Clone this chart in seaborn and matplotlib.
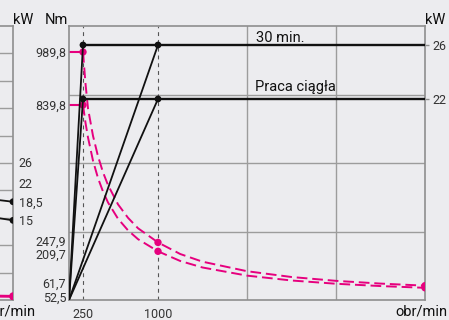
import numpy as np
import pandas as pd
import matplotlib
matplotlib.use("Agg")
import matplotlib.pyplot as plt
import seaborn as sns
from matplotlib.transforms import ScaledTranslation

# ---------------- data ----------------
base_speed_rpm = [250, 1000]
max_speed_rpm = 4000
power_30min_kw = 26
power_s1_kw = 22
torque_30min_nm = 989.8
torque_s1_nm = 839.8

curve_speed_rpm = [250, 275, 300, 350, 400, 450, 500, 600, 700, 800, 1000,
                   1250, 1500, 2000, 2500, 3000, 3500, 4000]
curve_torque_30min = [989.8, 900, 825, 707, 619, 550, 495, 412, 354, 309, 247.9,
                      198, 165, 124, 99, 82.5, 70.7, 61.7]
curve_torque_s1 = [839.8, 763, 700, 600, 525, 467, 420, 350, 300, 262, 209.7,
                   168, 140, 105, 84, 70, 60, 52.5]

torque_ticks = [52.5, 61.7, 209.7, 247.9, 839.8, 989.8]
torque_tick_labels = ["52,5", "61,7", "209,7", "247,9", "839,8", "989,8"]
power_ticks = [22, 26]
power_tick_labels = ["22", "26"]
speed_ticks = [250, 1000]
speed_tick_labels = ["250", "1000"]

# neighbouring (cropped) chart on the left
left_speed_rpm = [3000, 4000]
left_power_a = [20.5, 18.5]
left_power_b = [17.6, 15]
left_torque_a = [58.9, 44.2]
left_torque_b = [47.7, 35.8]
left_power_ticks = [15, 18.5, 22, 26]
left_power_tick_labels = ["15", "18,5", "22", "26"]

label_30min = "30 min."
label_s1 = "Praca ciągła"
unit_speed = "obr/min"

# ---------------- style ----------------
PINK = "#E6007E"
BLACK = "#111111"
BG = "#ECECEF"
GRID = "#9C9C9C"
SPINE = "#8E8E8E"
TXT = "#333333"
TICK_FS = 9

sns.set_theme(style="white")
plt.rcParams["font.family"] = ["Roboto", "DejaVu Sans"]
plt.rcParams["axes.facecolor"] = BG
plt.rcParams["figure.facecolor"] = BG


def piecewise(xk, yk):
    xk = np.asarray(xk, float)
    yk = np.asarray(yk, float)

    def build(a, b):
        s0 = (b[1] - b[0]) / (a[1] - a[0])
        s1 = (b[-1] - b[-2]) / (a[-1] - a[-2])

        def f(v):
            v = np.asarray(v, float)
            out = np.interp(v, a, b)
            out = np.where(v < a[0], b[0] + (v - a[0]) * s0, out)
            out = np.where(v > a[-1], b[-1] + (v - a[-1]) * s1, out)
            return out
        return f
    return build(xk, yk), build(yk, xk)


# schematic axis scales of the original drawing
speed_fwd, speed_inv = piecewise([0, 250, 1000, 4000], [0, 157.3, 1000, 4000])
torque_fwd, torque_inv = piecewise([0, torque_s1_nm, torque_30min_nm], [0, 0.7117, 0.9051])
power_fwd, power_inv = piecewise([0, power_s1_kw, power_30min_kw], [0, 0.7336, 0.9307])

W, H = 449, 320
fig = plt.figure(figsize=(W / 100, H / 100), dpi=100)
ax_left_px, ax_right_px, ax_top_px, ax_bot_px = 69, 425, 26, 300
aw = (ax_right_px - ax_left_px) / W
ah = (ax_bot_px - ax_top_px) / H
ab = (H - ax_bot_px) / H

ax = fig.add_axes([ax_left_px / W, ab, aw, ah])
axL = fig.add_axes([(13 - (ax_right_px - ax_left_px)) / W, ab, aw, ah])

for a in (ax, axL):
    a.set_facecolor(BG)
    for s in a.spines.values():
        s.set_color(SPINE)
        s.set_linewidth(1.2)

# ---------------- main chart ----------------
ax.set_xscale("function", functions=(speed_fwd, speed_inv))
ax.set_xlim(0, max_speed_rpm)
ax.set_yscale("function", functions=(torque_fwd, torque_inv))
ax.set_ylim(0, float(torque_inv(1.0)))

# grid
for gx in [2000, 3000]:
    ax.axvline(gx, color=GRID, lw=1.0, zorder=0.5)
for gy in torque_inv(np.array([0.25, 0.5, 0.75])):
    ax.axhline(gy, color=GRID, lw=1.0, zorder=0.5)
for bx in base_speed_rpm:
    ax.axvline(bx, color="#555555", lw=0.8, dashes=(3.5, 3.5), zorder=0.6)

# torque (pink)
for t_const, t_curve in [(torque_30min_nm, curve_torque_30min), (torque_s1_nm, curve_torque_s1)]:
    sns.lineplot(x=[0, base_speed_rpm[0]], y=[t_const, t_const], ax=ax, color=PINK,
                 lw=1.5, estimator=None, sort=False, zorder=2)
    sns.lineplot(x=curve_speed_rpm, y=t_curve, ax=ax, color=PINK, lw=1.4,
                 estimator=None, sort=False, zorder=2)
    ax.lines[-1].set_dashes([5.5, 2.5])
    dot_df = pd.DataFrame({"n": [curve_speed_rpm[0], 1000, curve_speed_rpm[-1]],
                           "t": [t_curve[0], t_curve[curve_speed_rpm.index(1000)], t_curve[-1]]})
    sns.scatterplot(data=dot_df, x="n", y="t", ax=ax, color=PINK, s=28,
                    edgecolor="none", zorder=3)

ax.set_xticks(speed_ticks)
ax.set_xticklabels(speed_tick_labels)
ax.set_yticks(torque_ticks)
ax.set_yticklabels(torque_tick_labels)
ax.tick_params(axis="x", length=0, pad=5.5, labelsize=TICK_FS, labelcolor=TXT)
ax.tick_params(axis="y", length=0, pad=2, labelsize=TICK_FS, labelcolor=TXT)
ax.set_xlabel("")
ax.set_ylabel("")
ax.minorticks_off()

label_shift = {"52,5": -9, "61,7": 3, "209,7": -2, "247,9": 2}
for lab in ax.get_yticklabels():
    dy = label_shift.get(lab.get_text(), 0)
    if dy:
        lab.set_transform(lab.get_transform() + ScaledTranslation(0, dy / 100, fig.dpi_scale_trans))

# power (black)
ax2 = ax.twinx()
ax2.set_yscale("function", functions=(power_fwd, power_inv))
ax2.set_ylim(0, float(power_inv(1.0)))
for p in [power_30min_kw, power_s1_kw]:
    sns.lineplot(x=[base_speed_rpm[0], max_speed_rpm], y=[p, p], ax=ax2, color=BLACK,
                 lw=1.7, estimator=None, sort=False, zorder=4)
    for nb in base_speed_rpm:
        sns.lineplot(x=[0, nb], y=[0, p], ax=ax2, color=BLACK, lw=1.3,
                     estimator=None, sort=False, zorder=4)
pts = pd.DataFrame({"n": [250, 1000, 250, 1000],
                    "p": [power_30min_kw, power_30min_kw, power_s1_kw, power_s1_kw]})
sns.scatterplot(data=pts, x="n", y="p", ax=ax2, color=BLACK, s=24, edgecolor="none", zorder=5)
ax2.set_yticks(power_ticks)
ax2.set_yticklabels(power_tick_labels)
ax2.tick_params(axis="y", length=3, width=1, color=SPINE, pad=2, labelsize=TICK_FS, labelcolor=TXT)
ax2.set_ylabel("")
ax2.minorticks_off()
for s in ax2.spines.values():
    s.set_visible(False)

ax2.annotate(label_30min, xy=(2000, power_30min_kw), xycoords="data",
             xytext=(9, 3), textcoords="offset pixels", ha="left", va="baseline",
             fontsize=10.5, color=BLACK)
ax2.annotate(label_s1, xy=(2000, power_s1_kw), xycoords="data",
             xytext=(8, 8), textcoords="offset pixels", ha="left", va="baseline",
             fontsize=10.5, color=BLACK)


def unit_labels(a, left_unit=None):
    a.annotate("kW", xy=(1, 1), xycoords="axes fraction", xytext=(0, 2),
               textcoords="offset pixels", ha="left", va="baseline",
               fontsize=10.5, color=BLACK)
    if left_unit:
        a.annotate(left_unit, xy=(0, 1), xycoords="axes fraction", xytext=(-1, 2),
                   textcoords="offset pixels", ha="right", va="baseline",
                   fontsize=10.5, color=BLACK)
    a.annotate(unit_speed, xy=(1, 0), xycoords="axes fraction", xytext=(23, -16),
               textcoords="offset pixels", ha="right", va="baseline",
               fontsize=10.5, color=BLACK)


unit_labels(ax, "Nm")

# ---------------- neighbouring chart (cropped at the left) ----------------
axL.set_xscale("function", functions=(speed_fwd, speed_inv))
axL.set_xlim(0, max_speed_rpm)
left_top = 51.6
axL.set_ylim(0, left_top)
for gy in np.linspace(0, left_top, 11)[1:-1]:
    axL.axhline(gy, color=GRID, lw=1.0, zorder=0.5)
axLt = axL.twinx()
axLt.set_ylim(0, 3000)
axLt.set_yticks([])
for s in axLt.spines.values():
    s.set_visible(False)
for tc in [left_torque_a, left_torque_b]:
    sns.lineplot(x=left_speed_rpm, y=tc, ax=axLt, color=PINK, lw=1.5,
                 estimator=None, sort=False)
    sns.scatterplot(x=[left_speed_rpm[-1]], y=[tc[-1]], ax=axLt, color=PINK, s=28,
                    edgecolor="none", zorder=3)
for pc in [left_power_a, left_power_b]:
    sns.lineplot(x=left_speed_rpm, y=pc, ax=axL, color=BLACK, lw=1.3,
                 estimator=None, sort=False, zorder=4)
    sns.scatterplot(x=[left_speed_rpm[-1]], y=[pc[-1]], ax=axL, color=BLACK, s=24,
                    edgecolor="none", zorder=5)
axL.yaxis.tick_right()
axL.set_yticks(left_power_ticks)
axL.set_yticklabels(left_power_tick_labels)
axL.tick_params(axis="y", length=0, pad=4, labelsize=TICK_FS, labelcolor=TXT)
axL.set_xticks([])
axL.set_xlabel("")
axL.set_ylabel("")
axL.minorticks_off()
unit_labels(axL)

fig.savefig("out.png", dpi=100, facecolor=BG)
